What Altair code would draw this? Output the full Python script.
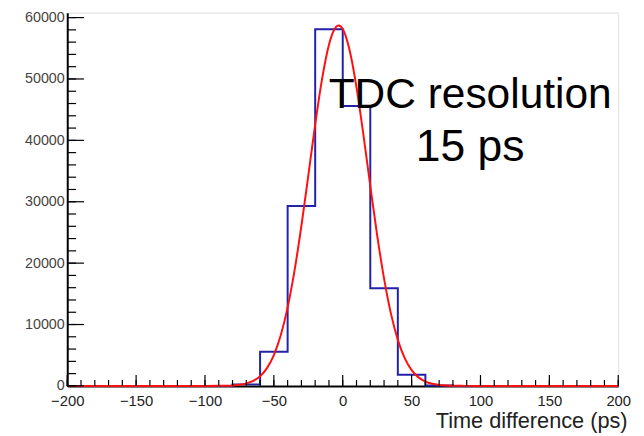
import altair as alt
import pandas as pd

# Histogram: bin left edges (20 ps wide) and counts
bin_left = [-200, -180, -160, -140, -120, -100, -80, -60, -40, -20,
            0, 20, 40, 60, 80, 100, 120, 140, 160, 180, 200]
bin_count = [0, 0, 0, 0, 0, 0, 250, 5580, 29300, 58100,
             45600, 15900, 1820, 60, 0, 0, 0, 0, 0, 0, 0]

# Gaussian fit curve
fit_x = [-200, -100, -90, -85, -80, -75, -70, -65, -60, -55, -50, -45, -40, -35, -30,
         -25, -20, -15, -10, -5, -3, 0, 5, 10, 15, 20, 25, 30, 35, 40,
         45, 50, 55, 60, 65, 70, 75, 80, 85, 90, 100, 200]
fit_y = [0, 1, 13, 33, 80, 184, 398, 816, 1580, 2900, 5030, 8250, 12800, 18790, 26090,
         34260, 42560, 50010, 55590, 58440, 58700, 58120, 54670, 48640, 40940, 32590, 24540, 17480, 11780, 7500,
         4520, 2580, 1390, 710, 343, 156, 68, 28, 11, 4, 0, 0]

x_labels = [-200, -150, -100, -50, 0, 50, 100, 150, 200]
x_minor = list(range(-200, 201, 10))
y_labels = [0, 10000, 20000, 30000, 40000, 50000, 60000]
y_minor = list(range(0, 60001, 2000))

ann_x = [92.5, 92.5]
ann_y = [45250, 36670]
ann_text = ["TDC resolution", "15 ps"]
ann_size = [43, 45]

W, H = 558, 378
FONT = "Liberation Sans"

xs = alt.Scale(domain=[-200, 200], nice=False, zero=False)
ys = alt.Scale(domain=[0, 60800], nice=False)

x_axis = alt.Axis(values=x_labels, ticks=False, grid=False, domainColor="black",
                  domainWidth=2, labelFontSize=15, labelFont=FONT, labelColor="#222",
                  labelPadding=8, labelOverlap=False, labelFlush=False, format="d",
                  titleFontSize=22, titleFont=FONT, titleFontWeight="normal",
                  titleColor="#222", titleAlign="right", titleAnchor="end",
                  titleX=W + 9, titleY=42, titleBaseline="alphabetic")
y_axis = alt.Axis(values=y_labels, ticks=False, grid=False, domainColor="black",
                  domainWidth=2, labelFontSize=14.5, labelFont=FONT, labelColor="#444",
                  labelPadding=3, labelOverlap=False, labelFlush=False, format="d")

X = alt.X("x:Q", scale=xs, axis=x_axis, title="Time difference (ps)")
Y = alt.Y("y:Q", scale=ys, axis=y_axis, title=None)

hist_df = pd.DataFrame({"x": bin_left, "y": bin_count})
fit_df = pd.DataFrame({"x": fit_x, "y": fit_y})

hist = alt.Chart(hist_df).mark_line(interpolate="step-after", color="#2222a8",
                                    strokeWidth=2).encode(x=X, y=Y)
fit = alt.Chart(fit_df).mark_line(interpolate="monotone", color="#ff1010",
                                  strokeWidth=2).encode(x=X, y=Y)

xmaj = alt.Chart(pd.DataFrame({"x": x_labels})).mark_rule(color="black", strokeWidth=1.2).encode(
    x=X, y=alt.value(H), y2=alt.value(H - 11))
xmin = alt.Chart(pd.DataFrame({"x": x_minor})).mark_rule(color="black", strokeWidth=1.2).encode(
    x=X, y=alt.value(H), y2=alt.value(H - 6))
ymaj = alt.Chart(pd.DataFrame({"y": y_labels})).mark_rule(color="black", strokeWidth=1.2).encode(
    y=Y, x=alt.value(0), x2=alt.value(17))
ymin = alt.Chart(pd.DataFrame({"y": y_minor})).mark_rule(color="black", strokeWidth=1.2).encode(
    y=Y, x=alt.value(0), x2=alt.value(9))

ann = alt.Chart(pd.DataFrame({"x": ann_x, "y": ann_y, "t": ann_text, "s": ann_size})).mark_text(
    font=FONT, color="black", align="center", baseline="alphabetic").encode(
    x=X, y=Y, text="t:N", size=alt.Size("s:Q", scale=None))

chart = alt.layer(hist, fit, xmin, xmaj, ymin, ymaj, ann).properties(
    width=W, height=H, autosize="none",
    padding={"left": 60, "top": 2, "right": 18, "bottom": 48},
).configure_view(stroke="#555", strokeWidth=2).configure(background="white")

chart.save("out.html", embed_options={"renderer": "svg", "actions": False})
